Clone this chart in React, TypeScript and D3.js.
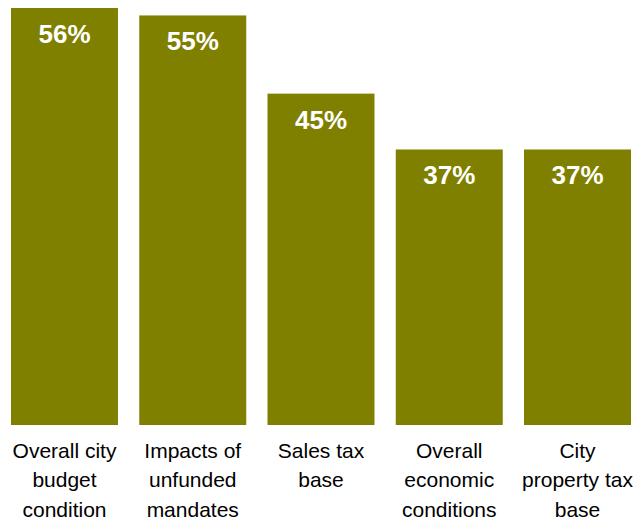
import React from "react";
import * as d3 from "d3";

const categories: string[][] = [
  ["Overall city", "budget", "condition"],
  ["Impacts of", "unfunded", "mandates"],
  ["Sales tax", "base"],
  ["Overall", "economic", "conditions"],
  ["City", "property tax", "base"],
];
const values: number[] = [56, 55, 44.5, 37, 37];
const valueLabels: string[] = ["56%", "55%", "45%", "37%", "37%"];

const W = 639;
const H = 523;

export default function App() {
  const x = d3
    .scaleBand<number>()
    .domain(values.map((_, i) => i))
    .range([0, 642])
    .paddingInner(0.1657)
    .paddingOuter(0.0858);
  const y = d3.scaleLinear().domain([0, 56]).range([425, 8]);

  return (
    <svg
      width={W}
      height={H}
      style={{ position: "absolute", left: 0, top: 0, display: "block" }}
      fontFamily="'Liberation Sans', Arial, sans-serif"
    >
      <rect width={W} height={H} fill="#ffffff" />
      {values.map((v, i) => {
        const bx = x(i)!;
        const bw = x.bandwidth();
        const cx = bx + bw / 2;
        return (
          <g key={i}>
            <rect x={bx} y={y(v)} width={bw} height={y(0) - y(v)} fill="#808000" />
            <text
              x={cx}
              y={y(v) + 35}
              textAnchor="middle"
              fill="#ffffff"
              fontWeight="bold"
              fontSize={26}
            >
              {valueLabels[i]}
            </text>
            {categories[i].map((line, j) => (
              <text
                key={j}
                x={cx}
                y={457.7 + j * 29.5}
                textAnchor="middle"
                fill="#000000"
                fontSize={21}
              >
                {line}
              </text>
            ))}
          </g>
        );
      })}
    </svg>
  );
}
